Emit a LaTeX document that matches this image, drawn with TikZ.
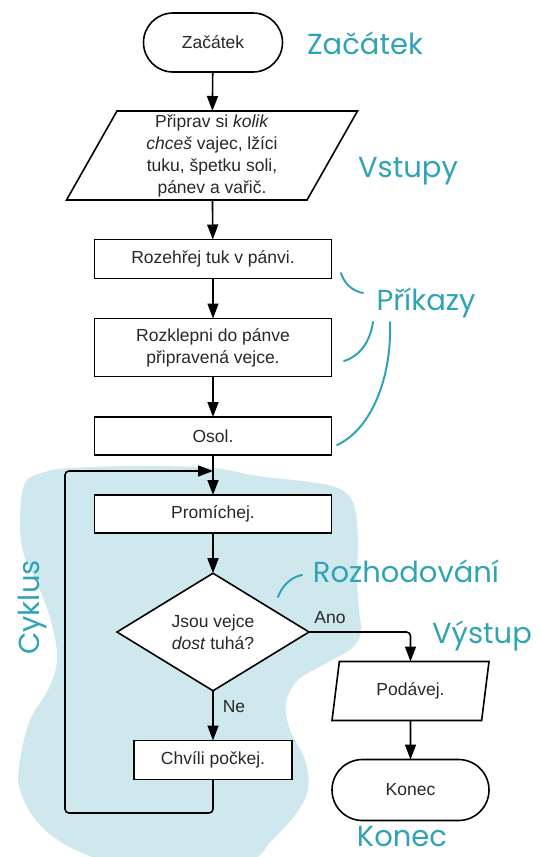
\documentclass[tikz,border=0pt]{standalone}
\usepackage{fontspec}
\setmainfont{Liberation Sans}
\newfontfamily\tealfont{Poppins}
\usetikzlibrary{arrows.meta,shapes.geometric,shapes.misc}

\definecolor{labelteal}{RGB}{48,163,180}
\definecolor{blobblue}{RGB}{207,232,238}
\definecolor{textgray}{RGB}{40,40,40}

\tikzset{
  base/.style={draw=black, line width=1.6pt, fill=white, inner sep=0pt, outer sep=0pt,
    align=center, text=textgray, font=\fontsize{17.5}{22}\selectfont},
  box/.style={base, rectangle, minimum width=237pt},
  terminal/.style={base, rounded rectangle},
  io/.style={base, trapezium, trapezium stretches body},
  decision/.style={base, diamond},
  flow/.style={draw=black, line width=1.6pt, -{Triangle[length=15pt,width=11pt]}},
  tag/.style={text=labelteal, font=\tealfont\fontsize{29}{34}\selectfont, anchor=base, inner sep=0pt},
  brace/.style={draw=labelteal, line width=2pt, line cap=round},
  edgetext/.style={text=textgray, font=\fontsize{17.5}{22}\selectfont, inner sep=0pt},
}

\begin{document}
\begin{tikzpicture}[x=1pt,y=-1pt]
\useasboundingbox (0,0) rectangle (539,857);

% light blue area behind the loop
\begin{scope}
  \clip (0,0) rectangle (539,857);
  \fill[blobblue] plot[smooth cycle, tension=0.6] coordinates {
    (25,483) (45,472) (70,468) (140,466) (213,468) (257,476) (310,482)
    (340,489) (354,505) (358,540) (357,575) (359,610) (361,632) (352,648)
    (325,664) (298,680) (286,703) (290,730) (305,760) (308,790) (295,815)
    (272,840) (245,862) (150,872) (80,852) (40,825) (20,790) (20,760)
    (30,720) (48,690) (57,660) (52,625) (40,590) (24,555) (20,520)};
\end{scope}

% flowchart nodes
\node[terminal, minimum width=139pt, minimum height=59pt] (start) at (213,42.5) {Začátek};
\node[io, trapezium left angle=58.5, trapezium right angle=121.5,
      minimum width=291pt, minimum height=89pt] (inp) at (212,155.5)
  {Připrav si \textit{kolik}\\\textit{chceš} vajec, lžíci\\tuku, špetku soli,\\pánev a vařič.};
\node[box, minimum height=39pt] (heat) at (213,259) {Rozehřej tuk v pánvi.};
\node[box, minimum height=58pt] (crack) at (213,347.5) {Rozklepni do pánve\\připravená vejce.};
\node[box, minimum height=38pt] (salt) at (213,436) {Osol.};
\node[box, minimum height=38pt] (mix) at (213,514) {Promíchej.};
\node[decision, minimum width=192pt, minimum height=114pt] (dec) at (213,632)
  {Jsou vejce\\\textit{dost} tuhá?};
\node[box, minimum width=158pt, minimum height=39pt] (wait) at (213,760) {Chvíli počkej.};
\node[io, trapezium left angle=66, trapezium right angle=114,
      minimum width=157pt, minimum height=59pt] (serve) at (410.5,691) {Podávej.};
\node[terminal, minimum width=157pt, minimum height=61pt] (stop) at (410.5,790) {Konec};

% loop points
\coordinate (loopL) at (65,813);
\coordinate (loopin) at (213,471);

% connectors
\draw[flow] (start) -- (inp);
\draw[flow] (inp) -- (heat);
\draw[flow] (heat) -- (crack);
\draw[flow] (crack) -- (salt);
\draw[flow] (salt) -- (mix);
\draw[flow] (mix) -- (dec);
\draw[flow] (dec) -- node[edgetext, right=9pt, pos=0.32] (ne) {Ne} (wait);
\draw[flow, rounded corners=4pt] (dec.east) -| (serve.north);
\node[edgetext] (ano) at (330,618) {Ano};
\draw[flow] (serve) -- (stop);
\draw[flow, rounded corners=4pt] (wait.south) |- (loopL) |- (loopin);

% category labels
\node[tag] (lstart) at (365,54.5) {Začátek};
\node[tag] (linput) at (408,177) {Vstupy};
\node[tag] (lcmd) at (426,310) {Příkazy};
\node[tag] (ldec) at (406,582) {Rozhodování};
\node[tag] (lout) at (482,643) {Výstup};
\node[tag] (lend) at (402,846) {Konec};
\node[tag, rotate=90] (lloop) at (39,607.5) {Cyklus};

% pointer strokes
\draw[brace] (341,273) .. controls (344,283) and (352,291) .. (363,293);
\draw[brace] (373,322) .. controls (370,342) and (360,356) .. (344,361);
\draw[brace] (390,322) .. controls (392,380) and (370,430) .. (337,445);
\draw[brace] (278,597) .. controls (282,586) and (291,577) .. (302,575);
\end{tikzpicture}
\end{document}
